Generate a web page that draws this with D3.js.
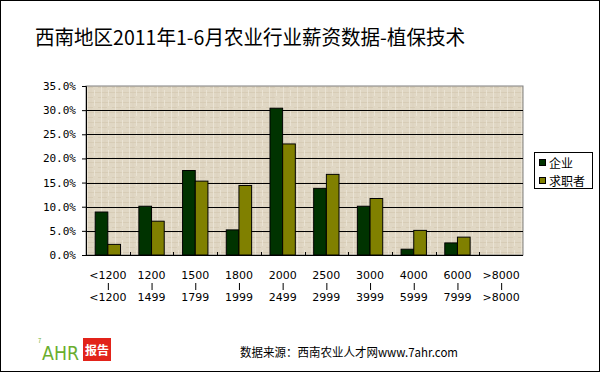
<!DOCTYPE html>
<html>
<head>
<meta charset="utf-8">
<script src="https://cdn.jsdelivr.net/npm/d3@7"></script>
<style>
	body { margin: 0; background: #fff; }
	svg { display: block; }
</style>
</head>
<body>
<script>
const w = 600,
	h = 372;

// salary bands (two-line labels)
const bandLow = ['<1200', '1200', '1500', '1800', '2000', '2500', '3000', '4000', '6000', '>8000'];
const bandHigh = ['<1200', '1499', '1799', '1999', '2499', '2999', '3999', '5999', '7999', '>8000'];
const seriesNames = ['企业', '求职者'];
const qiye = [0.089, 0.101, 0.175, 0.052, 0.304, 0.138, 0.101, 0.012, 0.025, 0];
const qiuzhi = [0.022, 0.070, 0.153, 0.144, 0.230, 0.167, 0.117, 0.051, 0.037, 0];
const yTicks = [0, 0.05, 0.10, 0.15, 0.20, 0.25, 0.30, 0.35];
const colors = ['#003300', '#808000'];

const margin = {top: 86, left: 86, right: 523, bottom: 255};

const svg = d3.select('body')
	.append('svg')
	.attr('width', w)
	.attr('height', h)
	.style('font-family', '"Noto Sans CJK SC", "DejaVu Sans", sans-serif');

//outer frame
svg.append('rect')
	.attr('x', 0.5).attr('y', 0.5)
	.attr('width', w - 1).attr('height', h - 1)
	.attr('fill', '#fff').attr('stroke', '#000');

//title
svg.append('text')
	.attr('x', 35)
	.attr('y', 45)
	.attr('font-size', 20)
	.attr('textLength', 430)
	.attr('lengthAdjust', 'spacingAndGlyphs')
	.text('西南地区2011年1-6月农业行业薪资数据-植保技术');

//canvas-like texture for the plot area
const defs = svg.append('defs');
const pat = defs.append('pattern')
	.attr('id', 'cloth')
	.attr('patternUnits', 'userSpaceOnUse')
	.attr('width', 14).attr('height', 10);
pat.append('rect').attr('width', 14).attr('height', 10).attr('fill', '#e0d7c4');
pat.append('path').attr('d', 'M0 2.5H14M0 7.5H9').attr('stroke', '#d2c7b0').attr('stroke-width', 0.7);
pat.append('path').attr('d', 'M3.5 0V10M10.5 0V6').attr('stroke', '#ece6d8').attr('stroke-width', 0.8);
pat.append('path').attr('d', 'M7 0V10').attr('stroke', '#d6ccb6').attr('stroke-width', 0.5);

const x = d3.scaleBand()
	.domain(d3.range(bandLow.length))
	.range([margin.left, margin.right])
	.paddingInner(0.42)
	.paddingOuter(0.21);
const xs = d3.scaleBand()
	.domain([0, 1])
	.range([0, x.bandwidth()]);
const y = d3.scaleLinear()
	.domain([0, 0.35])
	.range([margin.bottom, margin.top]);

svg.append('rect')
	.attr('x', margin.left)
	.attr('y', margin.top)
	.attr('width', margin.right - margin.left)
	.attr('height', margin.bottom - margin.top)
	.attr('fill', 'url(#cloth)')
	.attr('stroke', '#808080');

//grid lines
svg.append('g')
	.selectAll('line')
	.data(yTicks.slice(1, -1))
	.enter()
	.append('line')
	.attr('x1', margin.left).attr('x2', margin.right)
	.attr('y1', (d) => Math.round(y(d)) + 0.5)
	.attr('y2', (d) => Math.round(y(d)) + 0.5)
	.attr('stroke', '#000');

//bars
const data = bandLow.map((d, i) => [qiye[i], qiuzhi[i]]);
const groups = svg.append('g')
	.selectAll('g')
	.data(data)
	.enter()
	.append('g')
	.attr('transform', (d, i) => `translate(${x(i)},0)`);
groups.selectAll('rect')
	.data((d) => d)
	.enter()
	.append('rect')
	.attr('x', (d, j) => xs(j))
	.attr('y', (d) => y(d))
	.attr('width', xs.bandwidth())
	.attr('height', (d) => y(0) - y(d))
	.attr('fill', (d, j) => colors[j])
	.attr('stroke', '#000')
	.attr('stroke-width', 1);

//y axis
const yAxis = svg.append('g')
	.attr('transform', `translate(${margin.left},0)`)
	.call(d3.axisLeft(y).tickValues(yTicks).tickFormat(d3.format('.1%')).tickSize(4));
yAxis.select('.domain').attr('stroke', '#000');
yAxis.selectAll('text')
	.attr('font-size', 11)
	.attr('font-family', '"DejaVu Sans Mono", monospace')
	.attr('fill', '#000')
	.attr('dx', -3);

//x axis with ticks at category boundaries
const step = x.step();
svg.append('line')
	.attr('x1', margin.left).attr('x2', margin.right)
	.attr('y1', margin.bottom + 0.5).attr('y2', margin.bottom + 0.5)
	.attr('stroke', '#000');
svg.append('g')
	.selectAll('line')
	.data(d3.range(1, bandLow.length))
	.enter()
	.append('line')
	.attr('x1', (d) => Math.round(margin.left + d * step) + 0.5)
	.attr('x2', (d) => Math.round(margin.left + d * step) + 0.5)
	.attr('y1', margin.bottom - 3).attr('y2', margin.bottom + 1)
	.attr('stroke', '#000');

const xl = svg.append('g')
	.selectAll('g')
	.data(bandLow)
	.enter()
	.append('g')
	.attr('transform', (d, i) => `translate(${margin.left + (i + 0.5) * step},0)`)
	.attr('font-size', 11)
	.attr('font-family', '"DejaVu Sans", sans-serif')
	.attr('text-anchor', 'middle');
xl.append('text').attr('y', 279).text((d) => d);
xl.append('line').attr('x1', 0.5).attr('x2', 0.5).attr('y1', 283).attr('y2', 290).attr('stroke', '#000');
xl.append('text').attr('y', 301).text((d, i) => bandHigh[i]);

//legend
const lg = svg.append('g');
lg.append('rect')
	.attr('x', 534.5).attr('y', 152.5)
	.attr('width', 58).attr('height', 36)
	.attr('fill', '#fff').attr('stroke', '#000');
const li = lg.selectAll('g')
	.data(seriesNames)
	.enter()
	.append('g')
	.attr('transform', (d, i) => `translate(0,${163 + i * 18})`);
li.append('rect')
	.attr('x', 539.5).attr('y', -3.5)
	.attr('width', 6).attr('height', 6)
	.attr('fill', (d, i) => colors[i])
	.attr('stroke', '#000');
li.append('text')
	.attr('x', 549)
	.attr('y', 5)
	.attr('font-size', 12)
	.text((d) => d);

//logo
const logo = svg.append('g');
logo.append('text')
	.attr('x', 42).attr('y', 360)
	.attr('font-size', 20)
	.attr('textLength', 37)
	.attr('lengthAdjust', 'spacingAndGlyphs')
	.attr('font-family', '"DejaVu Sans", sans-serif')
	.attr('fill', '#6aae2e')
	.text('AHR');
logo.append('text')
	.attr('x', 38).attr('y', 343)
	.attr('font-size', 6)
	.attr('fill', '#6aae2e')
	.text('7');
logo.append('rect')
	.attr('x', 83).attr('y', 338)
	.attr('width', 28).attr('height', 23)
	.attr('fill', '#e2231a');
logo.append('text')
	.attr('x', 97).attr('y', 355)
	.attr('text-anchor', 'middle')
	.attr('font-size', 12)
	.attr('font-weight', 'bold')
	.attr('fill', '#fff')
	.text('报告');

//footer
svg.append('text')
	.attr('x', 240)
	.attr('y', 357)
	.attr('font-size', 12)
	.attr('textLength', 218)
	.attr('lengthAdjust', 'spacingAndGlyphs')
	.text('数据来源：西南农业人才网www.7ahr.com');
</script>
</body>
</html>
